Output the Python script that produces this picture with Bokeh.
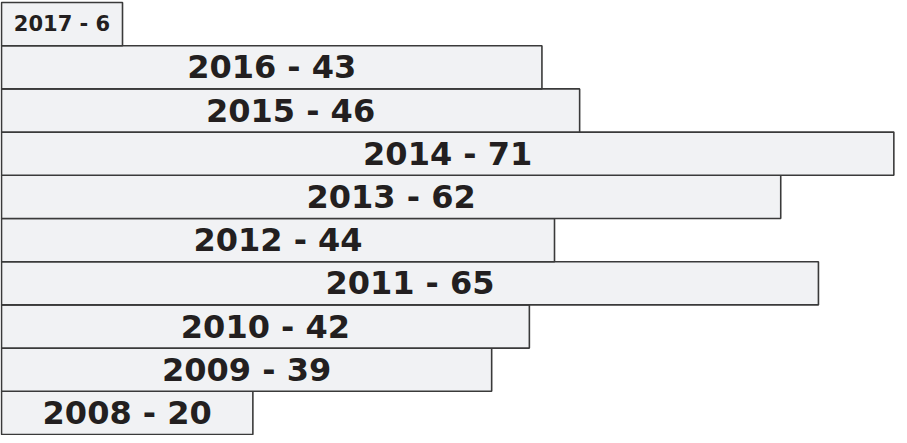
import numpy as np
from bokeh.plotting import figure
from bokeh.models import ColumnDataSource, Range1d
from bokeh.embed import file_html
from bokeh.resources import INLINE
from bokeh.core.properties import value

# ---- data (bottom to top) ----
years = ["2008", "2009", "2010", "2011", "2012", "2013", "2014", "2015", "2016", "2017"]
counts = [20, 39, 42, 65, 44, 62, 71, 46, 43, 6]

W, H = 899, 435
x_start, x_end = -0.08, 71.45
px_per_unit = W / (x_end - x_start)

# minimum drawn length so that a label always fits in its bar
min_len = 121 / px_per_unit
bar_len = [max(c, min_len) for c in counts]
labels = [f"{y} - {c}" for y, c in zip(years, counts)]
ypos = list(range(len(years)))
mid = [b / 2 for b in bar_len]
sizes = ["32px" if b * px_per_unit > 200 else "21px" for b in bar_len]

src = ColumnDataSource(dict(y=ypos, len=bar_len, mid=mid, label=labels, size=sizes))

pitch = 43.2
y_end = 9.5 + 2 / pitch
y_start = y_end - H / pitch

p = figure(width=W, height=H, output_backend="svg", toolbar_location=None,
           x_range=Range1d(x_start, x_end), y_range=Range1d(y_start, y_end),
           min_border=0, outline_line_color=None)
p.axis.visible = False
p.grid.visible = False
p.background_fill_color = "white"

p.hbar(y="y", left=0, right="len", height=1, source=src,
       fill_color="#f1f2f4", line_color="#3a3a3a", line_width=1.6)

p.text(x="mid", y="y", text="label", source=src,
       text_align="center", text_baseline="middle",
       text_font=value("DejaVu Sans"), text_font_style="bold",
       text_font_size="size", text_color="#231f20")

open("out.html", "w").write(file_html(p, INLINE))
